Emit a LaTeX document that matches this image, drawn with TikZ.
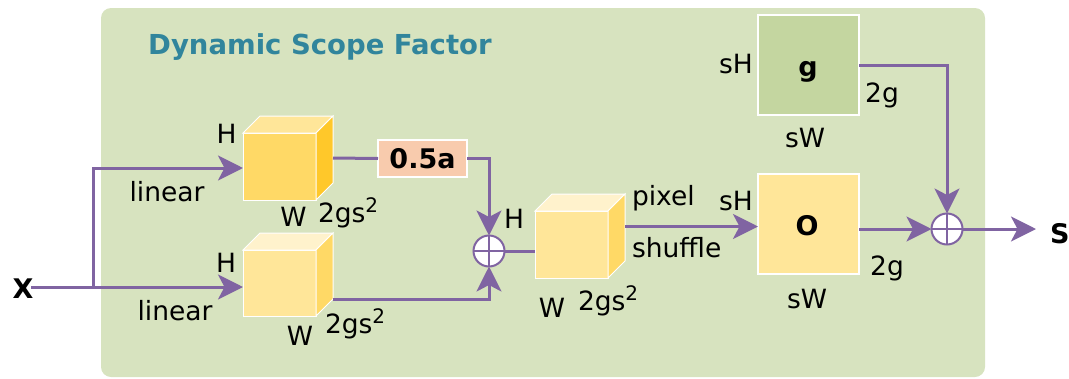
\documentclass[tikz,border=0pt]{standalone}
\usepackage{fontspec}
\setmainfont{DejaVu Sans}
\usetikzlibrary{arrows.meta}
\definecolor{bgc}{HTML}{D7E3BF}
\definecolor{titlec}{HTML}{31859C}
\definecolor{linec}{HTML}{8064A2}
\definecolor{goldA}{HTML}{FFD966}
\definecolor{goldB}{HTML}{FFE699}
\definecolor{goldC}{HTML}{FFF2CC}
\definecolor{goldD}{HTML}{FFC82A}
\definecolor{peach}{HTML}{F8CBAD}
\definecolor{gboxc}{HTML}{C4D6A0}
\newcommand\mycube[9]{%
  \node[cubeface, fill=#7, minimum width=#4pt, minimum height=#5pt] (#1) at (#2,#3) {};
  \filldraw[fill=#8, draw=white, line width=1pt] (#1.north west) -- ++(#6,-#6) -- ++(#4,0) -- (#1.north east) -- cycle;
  \filldraw[fill=#9, draw=white, line width=1pt] (#1.north east) -- ++(#6,-#6) -- ++(0,#5) -- (#1.south east) -- cycle;
}
\newcommand\supt{\raisebox{10pt}{\fontsize{20}{22}\selectfont 2}}
\tikzset{
  cubeface/.style={rectangle, draw=white, line width=1pt, inner sep=0pt, outer sep=0pt},
  box/.style={rectangle, draw=white, line width=1.2pt, inner sep=0pt, outer sep=0pt},
  lbl/.style={inner sep=0pt, outer sep=0pt, anchor=base, font=\fontsize{26.5}{30}\selectfont},
  lblw/.style={lbl, anchor=base west},
  conn/.style={draw=linec, line width=3pt},
  arr/.style={conn, -{Stealth[length=25pt, width=25pt, inset=6.5pt]}},
  oplus/.style={circle, draw=linec, fill=white, line width=2pt, minimum size=31pt, inner sep=0pt, outer sep=0pt,
    path picture={\draw[linec, line width=1.6pt] (path picture bounding box.north) -- (path picture bounding box.south)
      (path picture bounding box.west) -- (path picture bounding box.east);}},
}
\begin{document}
\begin{tikzpicture}[x=1pt, y=-1pt]
\useasboundingbox (0,0) rectangle (1069,378);
\fill[bgc, rounded corners=10pt] (101,8) rectangle (985,377);
\node[inner sep=0pt, anchor=base west, text=titlec, font=\fontsize{27.5}{32}\selectfont\bfseries] (title) at (148,54) {Dynamic Scope Factor};

% cubes
\mycube{top}{279.5}{166.5}{73}{67}{17}{goldA}{goldB}{goldD}
\mycube{bot}{279.5}{283}{73}{66}{17}{goldB}{goldC}{goldA}
\mycube{mid}{571.5}{244.5}{73}{67}{17}{goldB}{goldC}{goldA}

% boxes
\node[box, fill=peach, minimum width=89pt, minimum height=37pt, font=\fontsize{27}{30}\selectfont\bfseries] (half) at (422.5,158.5) {0.5a};
\node[box, fill=goldB, minimum width=101pt, minimum height=100pt] (O) at (808.5,224) {};
\node[box, fill=gboxc, minimum width=101pt, minimum height=100pt] (g) at (808.5,65) {};
\node[lbl, font=\fontsize{27}{30}\selectfont\bfseries] (Olbl) at (807,235) {O};
\node[lbl, font=\fontsize{27}{30}\selectfont\bfseries] (glbl) at (808,76) {g};

\node[oplus] (p1) at (489,251) {};
\node[oplus] (p2) at (947,229) {};

% inputs / outputs
\node[lbl, font=\fontsize{27}{30}\selectfont\bfseries] (X) at (23,298) {X};
\node[lblw, font=\fontsize{27}{30}\selectfont\bfseries] (S) at (1050,243) {S};
\coordinate (xs) at (31,287);
\coordinate (br) at (93,287);
\coordinate (out) at (1036,229);

% labels
\node[lbl] (Ht) at (226.5,143) {H};
\node[lbl] (Hb) at (226,272) {H};
\node[lbl] (lint) at (167,201) {linear};
\node[lbl] (linb) at (175,320) {linear};
\node[lbl] (Wt) at (293.5,226) {W};
\node[lblw] (gst) at (318,222) {2gs\supt};
\node[lbl] (Wb) at (300,345) {W};
\node[lblw] (gsb) at (325,333) {2gs\supt};
\node[lbl] (Hm) at (514,228) {H};
\node[lbl] (Wm) at (552,317) {W};
\node[lblw] (gsm) at (578,310) {2gs\supt};
\node[lblw] (pix) at (632,205) {pixel};
\node[lblw] (shu) at (632,257) {shuffle};
\node[lbl] (sHg) at (736,73) {sH};
\node[lbl] (tgg) at (882,102) {2g};
\node[lbl] (sWg) at (805,147) {sW};
\node[lbl] (sHO) at (736,210) {sH};
\node[lbl] (tgO) at (887,275) {2g};
\node[lbl] (sWO) at (807,308) {sW};

% connectors
\draw[arr] (xs) -- (xs -| bot.west);
\draw[arr] (br) -- (93,168) -- (top.west |- 0,168);
\draw[conn] ([xshift=17pt,yshift=8.5pt]top.east) -- (half.west);
\draw[arr] (half.east) -- (half.east -| p1) -- (p1.north);
\draw[arr] ([xshift=17pt,yshift=-16pt]bot.east) coordinate (bs) -- (bs -| p1) -- (p1.south);
\draw[conn] (p1.east) -- (p1.east -| mid.west);
\draw[arr] ([xshift=17pt,yshift=18pt]mid.east) coordinate (ms) -- (ms -| O.west);
\draw[arr] (O.east |- p2) -- (p2.west);
\draw[arr] (g.east) -- (g.east -| p2) -- (p2.north);
\draw[arr] (p2.east) -- (out);
\end{tikzpicture}
\end{document}
